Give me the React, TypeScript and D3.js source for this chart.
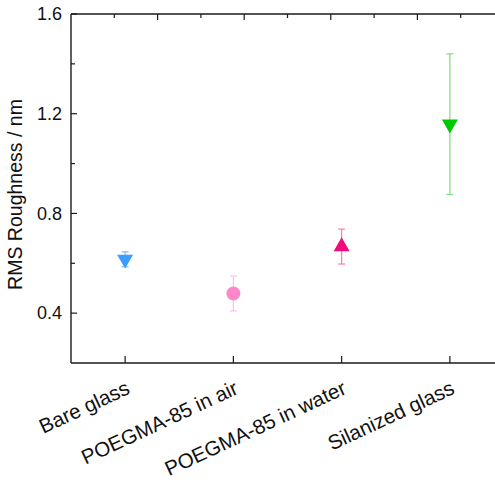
import React from 'react'
import * as d3 from 'd3'

const categories = ['Bare glass', 'POEGMA-85 in air', 'POEGMA-85 in water', 'Silanized glass']
const roughness = [0.616, 0.479, 0.667, 1.158]
const roughnessErr = [0.03, 0.07, 0.07, 0.282]
const yTicks = [0.4, 0.8, 1.2, 1.6]
const yMinorTicks = [0.6, 1.0, 1.4]

const markerShapes = ['triangleDown', 'circle', 'triangleUp', 'triangleDown']
const markerColors = ['#3d9cff', '#ff88c8', '#f20a7c', '#00c800']
const errColors = ['#7ab9ff', '#ffc2ef', '#ff78ac', '#7ae07a']

const W = 495
const H = 485
const margin = { top: 14, left: 71, bottom: 363, right: 504 }

export default function App() {
  // x: category index, half a step of padding on each side
  const x = d3.scaleLinear().domain([-0.5, categories.length - 0.5]).range([margin.left, margin.right])
  const y = d3.scaleLinear().domain([0.2, 1.6]).range([margin.bottom, margin.top])
  // top axis is just decoration ticks
  const xTop = d3.scaleLinear().domain([0, 10]).range([margin.left, margin.right])
  const topTicks = d3.range(1, 10)

  const tri = d3.symbol().type(d3.symbolTriangle).size(111)
  const circ = d3.symbol().type(d3.symbolCircle).size(154)

  const font = 'Liberation Sans, Arial, sans-serif'
  const axisColor = '#1a1a1a'

  return (
    <svg width={W} height={H} style={{ position: 'absolute', left: 0, top: 0, background: '#fff' }}>
      {/* frame */}
      <line x1={margin.left} x2={margin.left} y1={margin.top} y2={margin.bottom} stroke={axisColor} strokeWidth={1.4} />
      <line x1={margin.left} x2={margin.right} y1={margin.bottom} y2={margin.bottom} stroke={axisColor} strokeWidth={1.4} />
      <line x1={margin.left} x2={margin.right} y1={margin.top} y2={margin.top} stroke={axisColor} strokeWidth={1.4} />

      {/* y ticks */}
      {yTicks.map(t => (
        <g key={'y' + t}>
          <line x1={margin.left} x2={margin.left + 6} y1={y(t)} y2={y(t)} stroke={axisColor} strokeWidth={1.2} />
          <text x={margin.left - 9} y={y(t)} dy="0.35em" textAnchor="end" fontFamily={font} fontSize={18} fill="#111">
            {t.toFixed(1)}
          </text>
        </g>
      ))}
      {yMinorTicks.map(t => (
        <line key={'ym' + t} x1={margin.left} x2={margin.left + 4} y1={y(t)} y2={y(t)} stroke={axisColor} strokeWidth={1.2} />
      ))}

      {/* top ticks */}
      {topTicks.map(k => (
        <line key={'t' + k} x1={xTop(k)} x2={xTop(k)} y1={margin.top} y2={margin.top + (k % 2 === 0 ? 6 : 4)} stroke={axisColor} strokeWidth={1.2} />
      ))}

      {/* x ticks and labels */}
      {categories.map((c, i) => (
        <g key={c}>
          <line x1={x(i)} x2={x(i)} y1={margin.bottom} y2={margin.bottom - 7} stroke={axisColor} strokeWidth={1.2} />
          <text
            transform={`translate(${x(i) + 6},${393}) rotate(-25)`}
            textAnchor="end"
            fontFamily={font}
            fontSize={20.5}
            fill="#111"
          >
            {c}
          </text>
        </g>
      ))}

      {/* y title */}
      <text transform={`translate(22,${(margin.top + margin.bottom) / 2 + 6}) rotate(-90)`} textAnchor="middle" fontFamily={font} fontSize={19.5} fill="#111">
        RMS Roughness / nm
      </text>

      {/* error bars */}
      {roughness.map((v, i) => {
        const cx = x(i)
        const y0 = y(v - roughnessErr[i])
        const y1 = y(v + roughnessErr[i])
        return (
          <g key={'e' + i} stroke={errColors[i]} strokeWidth={1.2}>
            <line x1={cx} x2={cx} y1={y0} y2={y1} />
            <line x1={cx - 3.5} x2={cx + 3.5} y1={y0} y2={y0} />
            <line x1={cx - 3.5} x2={cx + 3.5} y1={y1} y2={y1} />
          </g>
        )
      })}

      {/* markers */}
      {roughness.map((v, i) => {
        const shape = markerShapes[i]
        const d = shape === 'circle' ? circ() : tri()
        const rot = shape === 'triangleDown' ? 180 : 0
        return (
          <path key={'m' + i} d={d || ''} transform={`translate(${x(i)},${y(v)}) rotate(${rot})`} fill={markerColors[i]} />
        )
      })}
    </svg>
  )
}
